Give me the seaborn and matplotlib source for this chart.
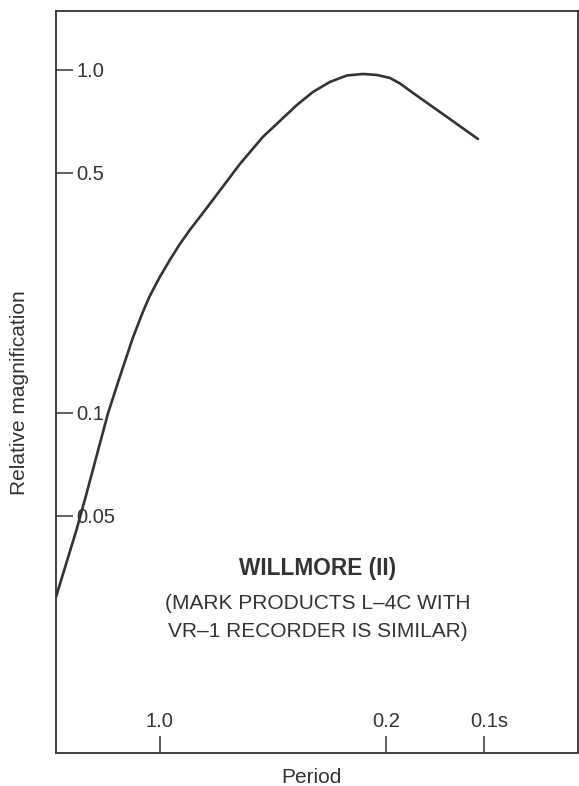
import matplotlib
matplotlib.use("Agg")
import matplotlib.pyplot as plt
import matplotlib.ticker as mticker
from matplotlib.transforms import ScaledTranslation
import pandas as pd
import seaborn as sns

# Response curve (period in s, relative magnification)
period = [2.09, 1.807, 1.684, 1.444, 1.329, 1.2115, 1.128, 1.0736, 1.0,
          0.9314, 0.8673, 0.808, 0.7525, 0.6864, 0.5663, 0.4811, 0.3777,
          0.3371, 0.2988, 0.2648, 0.2363, 0.2139, 0.1951, 0.1816, 0.1656,
          0.1301, 0.1044]
magnification = [0.029, 0.0455, 0.0579, 0.0997, 0.127, 0.1651, 0.1966,
                  0.2189, 0.2486, 0.2787, 0.3102, 0.341, 0.3721, 0.4171,
                  0.531, 0.6369, 0.7894, 0.8615, 0.9214, 0.9624, 0.9722,
                  0.9657, 0.9465, 0.9122, 0.8558, 0.7284, 0.6283]

x_ticks = [1.0, 0.2, 0.1]
x_tick_labels = ["1.0", "0.2", "0.1s"]
y_ticks = [0.05, 0.1, 0.5, 1.0]
y_tick_labels = ["0.05", "0.1", "0.5", "1.0"]

title = "WILLMORE (II)"
note = "(MARK PRODUCTS L\u20134C WITH\nVR\u20131 RECORDER IS SIMILAR)"

ink = "#333333"

sns.set_theme(style="white")
plt.rcParams["font.family"] = ["Liberation Sans", "DejaVu Sans"]

df = pd.DataFrame({"period": period, "magnification": magnification})

fig = plt.figure(figsize=(5.79, 7.86), dpi=100)
ax = fig.add_axes([56 / 579, 1 - 752.5 / 786, 522 / 579, 741.5 / 786])

sns.lineplot(data=df, x="period", y="magnification", sort=False,
             estimator=None, color=ink, linewidth=1.9, ax=ax)

ax.set_xscale("log")
ax.set_yscale("log")
ax.set_xlim(2.09, 0.0513)
ax.set_ylim(0.0102, 1.484)

ax.xaxis.set_major_locator(mticker.FixedLocator(x_ticks))
ax.xaxis.set_major_formatter(mticker.FixedFormatter(x_tick_labels))
ax.yaxis.set_major_locator(mticker.FixedLocator(y_ticks))
ax.yaxis.set_major_formatter(mticker.FixedFormatter(y_tick_labels))
ax.xaxis.set_minor_locator(mticker.NullLocator())
ax.yaxis.set_minor_locator(mticker.NullLocator())

# ticks point inward, labels sit inside the frame
ax.tick_params(axis="both", direction="in", length=12, width=1.1,
               color=ink, labelcolor=ink, labelsize=14.5,
               bottom=True, left=True, top=False, right=False)
ax.tick_params(axis="y", pad=-14.5)
ax.tick_params(axis="x", pad=-15.5)
for lab in ax.get_yticklabels():
    lab.set_horizontalalignment("left")
for lab in ax.get_xticklabels():
    lab.set_verticalalignment("bottom")
# keep "0.1" centred on its tick, the "s" hangs to the right
s_lab = ax.get_xticklabels()[2]
s_lab.set_transform(s_lab.get_transform()
                    + ScaledTranslation(0.05, 0, fig.dpi_scale_trans))

for sp in ax.spines.values():
    sp.set_color(ink)
    sp.set_linewidth(1.3)
    sp.set_visible(True)

ax.set_xlabel("Period", fontsize=15, color=ink)
ax.set_ylabel("Relative magnification", fontsize=15, color=ink)
ax.xaxis.set_label_coords(0.49, -0.021)
ax.yaxis.set_label_coords(-0.052, 0.486)

ax.text(0.502, 0.2484, title, transform=ax.transAxes, ha="center",
        va="center", fontsize=16.3, fontweight="bold", color=ink)
ax.text(0.502, 0.182, note, transform=ax.transAxes, ha="center",
        va="center", fontsize=15, color=ink, linespacing=1.55)

fig.savefig("out.png", dpi=100, facecolor="white")
